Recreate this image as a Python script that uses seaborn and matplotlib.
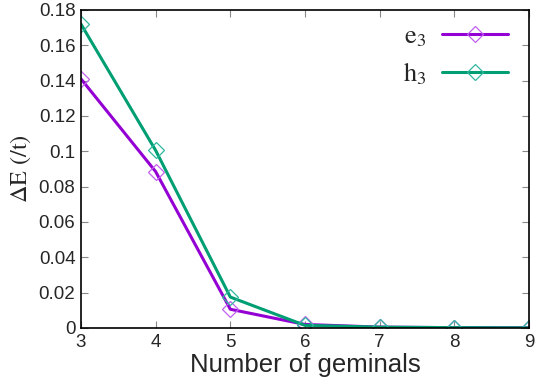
import matplotlib
matplotlib.use("Agg")
import matplotlib.pyplot as plt
import seaborn as sns
import pandas as pd
from matplotlib.lines import Line2D

geminals = [3, 4, 5, 6, 7, 8, 9]
e3 = [0.141, 0.0885, 0.0106, 0.0020, 0.0005, 0.0002, 0.0001]
h3 = [0.172, 0.1005, 0.0175, 0.0015, 0.0005, 0.0002, 0.0001]
series_names = [r"$\mathrm{e_3}$", r"$\mathrm{h_3}$"]
colors = ["#9400d3", "#009e73"]
marker_colors = ["#c060f0", "#30b8a0"]

df = pd.concat([
    pd.DataFrame({"x": geminals, "y": e3, "s": series_names[0]}),
    pd.DataFrame({"x": geminals, "y": h3, "s": series_names[1]}),
])

sns.set_style("ticks")
plt.rcParams["font.family"] = ["Liberation Sans", "DejaVu Sans"]
plt.rcParams["mathtext.fontset"] = "stix"

fig = plt.figure(figsize=(5.45, 3.83), dpi=100)
ax = fig.add_axes([81/545, 1-328/383, (529-81)/545, (328-10)/383])

sns.lineplot(data=df, x="x", y="y", hue="s", style="s",
             palette=colors, markers=["D", "D"], dashes=False,
             linewidth=2.2, markersize=8.5, ax=ax, legend=False)
for line, mc in zip(ax.get_lines(), marker_colors):
    line.set_markerfacecolor("none")
    line.set_markeredgecolor(mc)
    line.set_markeredgewidth(0.9)

ax.set_xlim(3, 9)
ax.set_ylim(0, 0.18)
ax.set_xticks(geminals)
ax.set_yticks([0, 0.02, 0.04, 0.06, 0.08, 0.1, 0.12, 0.14, 0.16, 0.18])
ax.set_yticklabels(["0", "0.02", "0.04", "0.06", "0.08", "0.1", "0.12", "0.14", "0.16", "0.18"])
ax.tick_params(direction="in", top=True, right=True, labelsize=13.5, length=5,
               color="#888888", pad=4)
for sp in ax.spines.values():
    sp.set_linewidth(1.2)
    sp.set_color("black")
ax.set_xlabel("Number of geminals", fontsize=18.5, labelpad=2)
ax.set_ylabel(r"$\Delta\mathrm{E}$ (/t)", fontsize=17.5, family="STIXGeneral", labelpad=4)

handles = [Line2D([0], [0], color=c, lw=2.2, marker="D", markersize=8.5,
                  markerfacecolor="none", markeredgecolor=mc, markeredgewidth=0.9)
           for c, mc in zip(colors, marker_colors)]
leg = ax.legend(handles, series_names, loc="upper right", frameon=False,
                markerfirst=False, fontsize=19, handlelength=2.5,
                bbox_to_anchor=((508-81)/448, (328-24)/318),
                borderaxespad=0, borderpad=0,
                labelspacing=0.45, handletextpad=0.6)

fig.savefig("out.png", dpi=100)
